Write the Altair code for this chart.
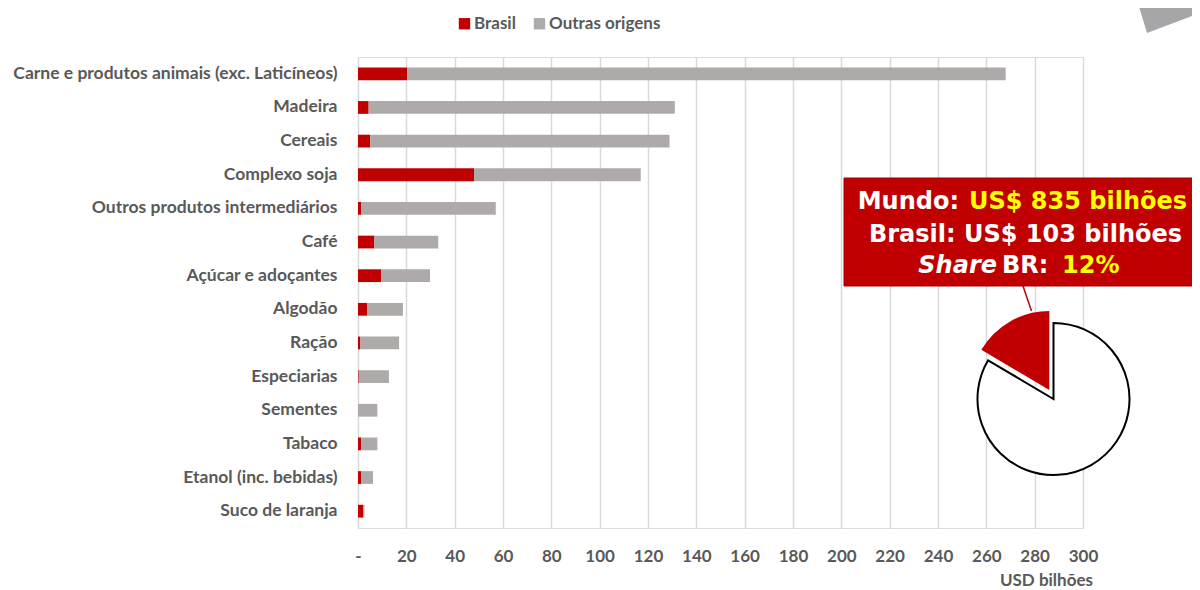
import altair as alt
import pandas as pd

# ---------------- data ----------------
categories = [
    "Carne e produtos animais (exc. Laticíneos)",
    "Madeira",
    "Cereais",
    "Complexo soja",
    "Outros produtos intermediários",
    "Café",
    "Açúcar e adoçantes",
    "Algodão",
    "Ração",
    "Especiarias",
    "Sementes",
    "Tabaco",
    "Etanol (inc. bebidas)",
    "Suco de laranja",
]
brasil = [20.3, 4.4, 5.1, 48.0, 1.4, 6.8, 9.6, 3.9, 1.0, 0.3, 0.1, 1.4, 1.4, 2.2]
outras = [247.7, 126.7, 123.8, 69.0, 55.6, 26.4, 20.2, 14.7, 16.0, 12.5, 7.9, 6.6, 4.8, 0.5]
series = ["Brasil", "Outras origens"]
x_ticks = [0, 20, 40, 60, 80, 100, 120, 140, 160, 180, 200, 220, 240, 260, 280, 300]

pie_labels = ["Outras origens", "Brasil"]
pie_values = [83.5, 16.5]

line1_a = "Mundo:"
line1_b = "US$ 835 bilhões"
line2 = "Brasil: US$ 103 bilhões"
line3_a = "Share"
line3_b = "BR:"
line3_c = "12%"
axis_unit = "USD bilhões"

# ---------------- styles ----------------
RED = "#c00000"
GRAY_BAR = "#aeaaaa"
TXT = "#595959"
FONT = "Lato"
BOXFONT = "DejaVu Sans"
YELLOW = "#ffff00"

rows = []
for c, b, o in zip(categories, brasil, outras):
    rows.append({"cat": c, "origem": series[0], "valor": b, "ord": 0})
    rows.append({"cat": c, "origem": series[1], "valor": o, "ord": 1})
df = pd.DataFrame(rows)

bars = alt.Chart(df).mark_bar().encode(
    x=alt.X(
        "valor:Q",
        stack="zero",
        scale=alt.Scale(domain=[0, 300], nice=False, zero=True),
        axis=alt.Axis(
            values=x_ticks, grid=True, gridColor="#d9d9d9", gridWidth=1.5,
            ticks=False, domain=False, title=None, labelFlush=False,
            labelExpr="datum.value == 0 ? '-' : datum.label",
            labelFont=FONT, labelFontSize=17, labelFontWeight="bold",
            labelColor=TXT, labelPadding=20,
        ),
    ),
    y=alt.Y(
        "cat:N", sort=categories,
        scale=alt.Scale(paddingInner=0.62, paddingOuter=0.31),
        axis=alt.Axis(
            title=None, ticks=False, domain=False, grid=False,
            labelFont=FONT, labelFontSize=17.5, labelFontWeight="bold",
            labelColor=TXT, labelPadding=21, labelLimit=500,
        ),
    ),
    color=alt.Color(
        "origem:N",
        scale=alt.Scale(domain=series, range=[RED, GRAY_BAR]),
        legend=alt.Legend(
            title=None, orient="none", legendX=98, legendY=-42,
            direction="horizontal", symbolType="square", symbolSize=130,
            symbolStrokeWidth=0, labelFont=FONT, labelFontSize=17,
            labelFontWeight="bold", labelColor=TXT, columnPadding=15,
            padding=0, labelOffset=1,
        ),
    ),
    order=alt.Order("ord:Q"),
)

one = pd.DataFrame({"a": [0]})

corner = alt.Chart(one).mark_point(
    shape="M779,-57 L789,-24 L842,-44 L842,-57 Z", size=4, filled=True,
    color="#a6a6a8", opacity=1, strokeWidth=0,
).encode(x=alt.value(0), y=alt.value(0))

box = alt.Chart(one).mark_rect(color=RED, stroke="#a00000", strokeWidth=1).encode(
    x=alt.value(486), x2=alt.value(842), y=alt.value(121), y2=alt.value(229)
)

connector = alt.Chart(one).mark_rule(color=RED, strokeWidth=1.5).encode(
    x=alt.value(665), x2=alt.value(673.5), y=alt.value(229), y2=alt.value(254)
)


def txt(s, x, y, color, align, italic=False):
    return alt.Chart(pd.DataFrame({"t": [s]})).mark_text(
        font=BOXFONT, fontSize=24, fontWeight="bold",
        fontStyle="italic" if italic else "normal",
        color=color, align=align, baseline="alphabetic",
    ).encode(text="t:N", x=alt.value(x), y=alt.value(y))


texts = [
    txt(line1_a, 601, 152, "white", "right"),
    txt(line1_b, 611, 152, YELLOW, "left"),
    txt(line2, 667.5, 185, "white", "center"),
    txt(line3_a, 639, 216, "white", "right", italic=True),
    txt(line3_b, 644, 216, "white", "left"),
    txt(line3_c, 704, 216, YELLOW, "left"),
]

unit = alt.Chart(pd.DataFrame({"t": [axis_unit]})).mark_text(
    font=FONT, fontSize=17, fontWeight="bold", color=TXT,
    align="right", baseline="alphabetic",
).encode(text="t:N", x=alt.value(735), y=alt.value(529))

pie_df = pd.DataFrame({"lab": pie_labels, "v": pie_values, "i": [0, 1]})
pie_base = (
    alt.Chart(pie_df)
    .transform_joinaggregate(total="sum(v)")
    .transform_window(cum="sum(v)", frame=[None, 0], sort=[alt.SortField("i")])
    .transform_calculate(
        t1="(datum.cum - datum.v) / datum.total * 2 * PI",
        t2="datum.cum / datum.total * 2 * PI",
    )
)
pie_white = pie_base.transform_filter("datum.lab == 'Outras origens'").mark_arc(
    outerRadius=76, fill="white", stroke="black", strokeWidth=2
).encode(
    theta=alt.Theta("t1:Q", scale=None), theta2="t2:Q",
    x=alt.value(695.5), y=alt.value(342),
)
pie_red = pie_base.transform_filter("datum.lab == 'Brasil'").mark_arc(
    outerRadius=79, fill=RED, strokeWidth=0
).encode(
    theta=alt.Theta("t1:Q", scale=None), theta2="t2:Q",
    x=alt.value(691.3), y=alt.value(333),
)

chart = alt.layer(
    bars, corner, box, connector, *texts, unit, pie_white, pie_red
).properties(
    width=725, height=471,
    padding={"left": 350, "top": 49, "right": 109, "bottom": 62},
    autosize=alt.AutoSizeParams(type="none"),
).configure_view(stroke=None).configure(background="white")

chart.save("out.html", embed_options={"renderer": "svg", "actions": False})
